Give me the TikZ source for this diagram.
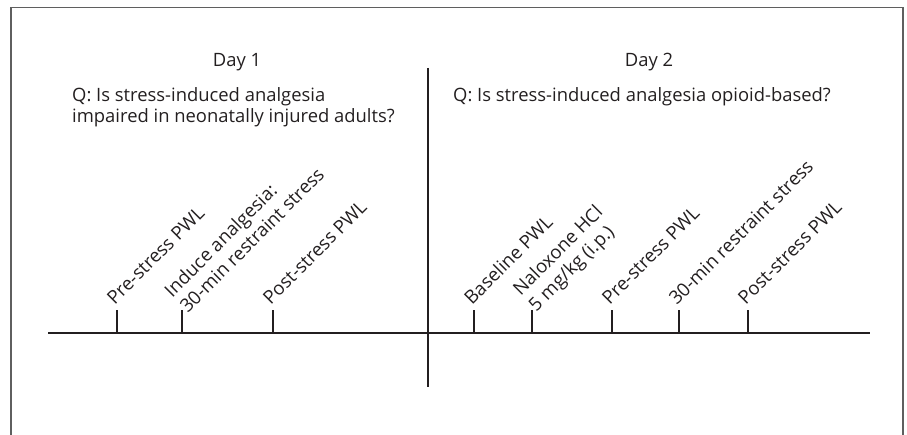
\documentclass[tikz,border=0pt]{standalone}
\usepackage{fontspec}
\setmainfont{Open Sans}
\usetikzlibrary{positioning,calc}
\definecolor{framegray}{RGB}{95,95,95}
\definecolor{inkgray}{RGB}{35,31,32}
\tikzset{
  frameline/.style={draw=framegray, line width=1.8pt},
  axis/.style={draw=inkgray, line width=2.8pt},
  divider/.style={draw=inkgray, line width=2.4pt},
  tickmark/.style={draw=inkgray, line width=2.6pt},
  daytitle/.style={text=inkgray, font=\fontsize{18.4}{21}\selectfont, inner sep=0pt},
  question/.style={text=inkgray, font=\fontsize{18.4}{21}\selectfont, align=left, inner sep=0pt},
  steplabel/.style={text=inkgray, font=\fontsize{18.6}{22}\selectfont, align=left,
    rotate=45, anchor=west, inner sep=0pt}
}

\begin{document}
\begin{tikzpicture}[x=1pt,y=-1pt]
\useasboundingbox (0,0) rectangle (907,435);
\draw[frameline] (11,435) -- (11,7.5) -- (903,7.5) -- (903,435);

\node[daytitle, anchor=base] (day1) at (237,67) {Day 1};
\node[daytitle, anchor=base] (day2) at (649,67) {Day 2};
\node[question, anchor=base west] (q1) at (72,123) {Q: Is stress-induced analgesia\\impaired in neonatally injured adults?};
\node[question, anchor=base west] (q2) at (453,102) {Q: Is stress-induced analgesia opioid-based?};

% time line and day split
\coordinate (axisL) at (48,333);
\coordinate (axisR) at (870,333);
\coordinate (splitT) at (428,68);
\coordinate (splitB) at (428,387);
\draw[axis] (axisL) -- (axisR);
\draw[divider] (splitT) -- (splitB);

% steps
\foreach \x/\n/\txt in {117/a/{Pre-stress PWL},
                        182/b/{Induce analgesia:\\30-min restraint stress},
                        273/c/{Post-stress PWL},
                        474/d/{Baseline PWL},
                        532/e/{Naloxone HCl\\5 mg/kg (i.p.)},
                        612/f/{Pre-stress PWL},
                        679/g/{30-min restraint stress},
                        748/h/{Post-stress PWL}} {
  \coordinate (tick\n) at (\x,333);
  \draw[tickmark] (tick\n) -- ++(0,-23);
  \node[steplabel] (lab\n) at ($(tick\n)+(-7,-32)$) {\txt};
}
\end{tikzpicture}
\end{document}
